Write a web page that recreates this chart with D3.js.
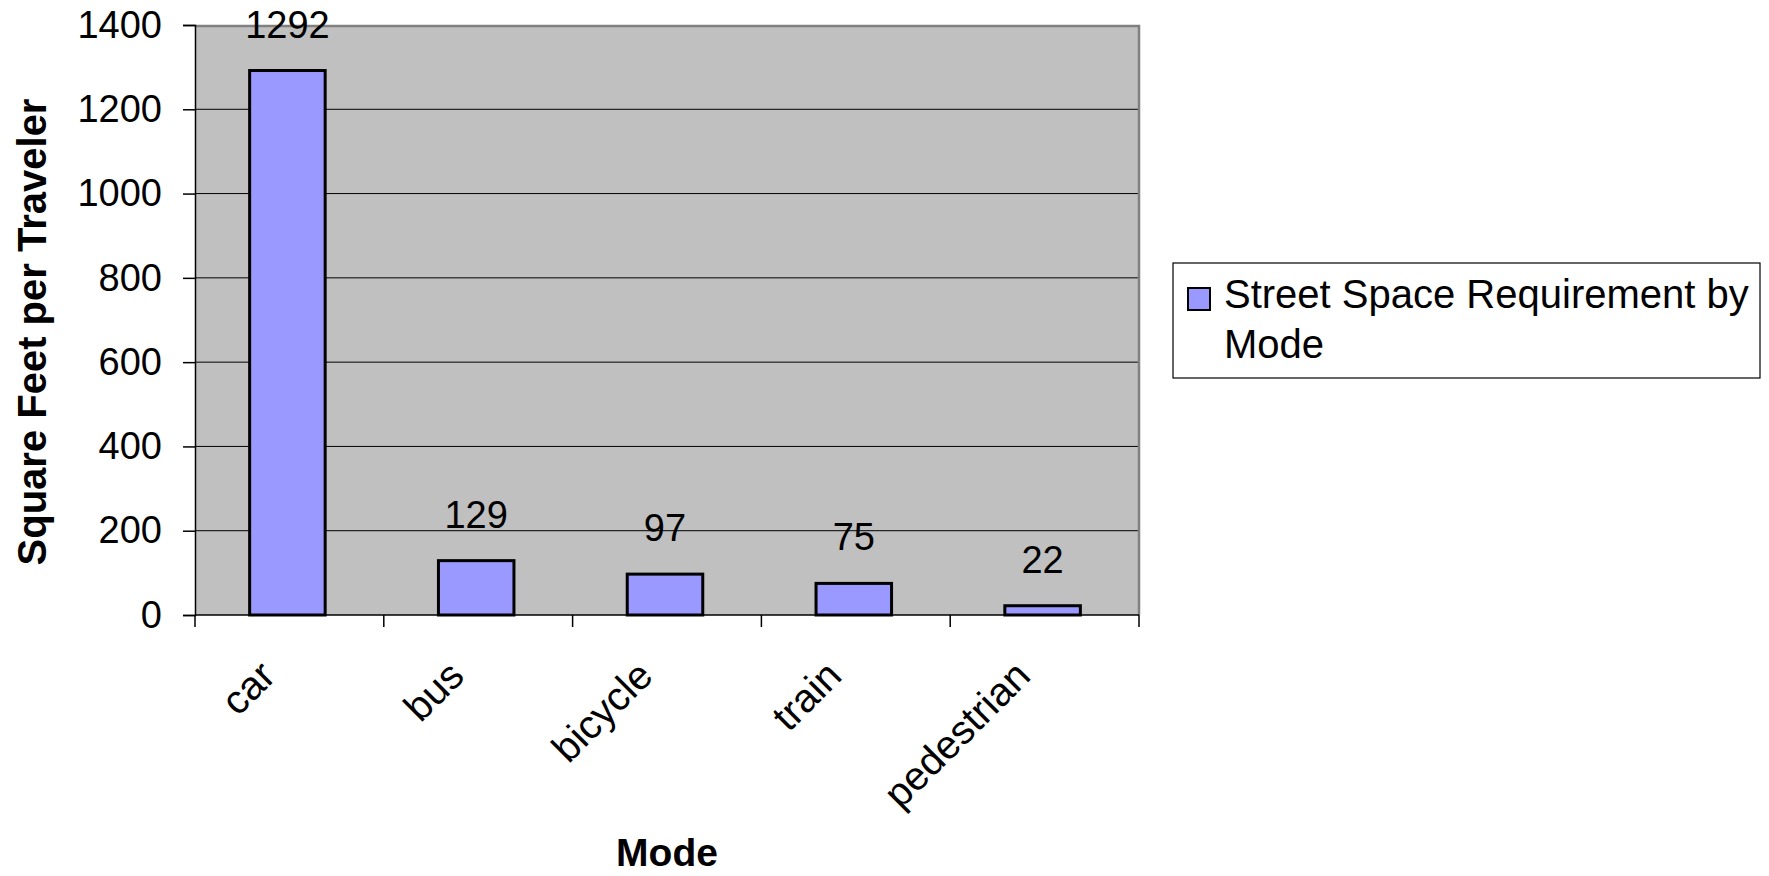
<!DOCTYPE html>
<html>
<head>
<meta charset="utf-8">
<script src="https://cdn.jsdelivr.net/npm/d3@7"></script>
<style>
  html, body { margin: 0; padding: 0; background: #ffffff; }
  svg { display: block; font-family: "Liberation Sans", Arial, sans-serif; }
</style>
</head>
<body>
<svg id="chart" width="1769" height="876"></svg>
<script>
const categories = ["car", "bus", "bicycle", "train", "pedestrian"];
const values = [1292, 129, 97, 75, 22];
const yTicks = [0, 200, 400, 600, 800, 1000, 1200, 1400];
const seriesName = "Street Space Requirement by Mode";
const yTitle = "Square Feet per Traveler";
const xTitle = "Mode";

const svg = d3.select("#chart");
const plot = { left: 195, right: 1139, top: 25, bottom: 615 };

const y = d3.scaleLinear().domain([0, 1400]).range([plot.bottom, plot.top]);
const xStep = d3.scaleBand().domain(categories).range([plot.left, plot.right]).padding(0);
const xBar = d3.scaleBand().domain(categories).range([plot.left, plot.right])
  .paddingInner(0.6).paddingOuter(0.3);

// plot background
svg.append("rect")
  .attr("x", plot.left).attr("y", plot.top)
  .attr("width", plot.right - plot.left).attr("height", plot.bottom - plot.top)
  .attr("fill", "#c0c0c0");

// gridlines
svg.append("g").selectAll("line")
  .data(yTicks.filter(d => d > 0 && d < 1400))
  .join("line")
  .attr("x1", plot.left).attr("x2", plot.right)
  .attr("y1", d => y(d)).attr("y2", d => y(d))
  .attr("stroke", "#000").attr("stroke-width", 1);

// plot border top / right
svg.append("path")
  .attr("d", `M${plot.left},${plot.top + 1} H${plot.right} V${plot.bottom}`)
  .attr("fill", "none").attr("stroke", "#808080").attr("stroke-width", 2.5);

// bars
svg.append("g").selectAll("rect")
  .data(values)
  .join("rect")
  .attr("x", (d, i) => xBar(categories[i]) - 2)
  .attr("width", xBar.bandwidth())
  .attr("y", d => y(d))
  .attr("height", d => y(0) - y(d))
  .attr("fill", "#9999ff")
  .attr("stroke", "#000")
  .attr("stroke-width", 3);

// value labels
svg.append("g").selectAll("text")
  .data(values)
  .join("text")
  .attr("x", (d, i) => xBar(categories[i]) + xBar.bandwidth() / 2 - 2)
  .attr("y", d => y(d) - 33)
  .attr("text-anchor", "middle")
  .attr("font-size", 38)
  .attr("fill", "#000")
  .text(d => d);

// y axis
const yAxis = d3.axisLeft(y).tickValues(yTicks).tickFormat(d3.format("d")).tickSize(12).tickPadding(21);
const gy = svg.append("g").attr("transform", `translate(${plot.left},0)`).call(yAxis);
gy.select(".domain").attr("stroke", "#000").attr("stroke-width", 1.5);
gy.selectAll(".tick line").attr("stroke", "#000").attr("stroke-width", 1.5);
gy.selectAll(".tick text").attr("font-size", 38).attr("fill", "#000")
  .attr("font-family", "'Liberation Sans', Arial, sans-serif");

// x axis line and ticks at category boundaries
const boundaries = categories.map(c => xStep(c)).concat([plot.right]);
svg.append("line")
  .attr("x1", plot.left).attr("x2", plot.right)
  .attr("y1", plot.bottom).attr("y2", plot.bottom)
  .attr("stroke", "#000").attr("stroke-width", 1.5);
svg.append("g").selectAll("line")
  .data(boundaries)
  .join("line")
  .attr("x1", d => d).attr("x2", d => d)
  .attr("y1", plot.bottom).attr("y2", plot.bottom + 12)
  .attr("stroke", "#000").attr("stroke-width", 1.5);

// x labels rotated
svg.append("g").selectAll("text")
  .data(categories)
  .join("text")
  .attr("transform", d => `translate(${xStep(d) + xStep.bandwidth() / 2 - 12},678) rotate(-45)`)
  .attr("text-anchor", "end")
  .attr("font-size", 40)
  .attr("fill", "#000")
  .text(d => d);

// axis titles
svg.append("text")
  .attr("transform", `translate(46,${(99 + 565) / 2}) rotate(-90)`)
  .attr("text-anchor", "middle")
  .attr("font-size", 40)
  .attr("font-weight", "bold")
  .attr("fill", "#000")
  .text(yTitle);

svg.append("text")
  .attr("x", (plot.left + plot.right) / 2)
  .attr("y", 866)
  .attr("text-anchor", "middle")
  .attr("font-size", 39)
  .attr("font-weight", "bold")
  .attr("fill", "#000")
  .text(xTitle);

// legend
const lg = svg.append("g");
lg.append("rect")
  .attr("x", 1173).attr("y", 263).attr("width", 587).attr("height", 115)
  .attr("fill", "#fff").attr("stroke", "#000").attr("stroke-width", 1.2);
lg.append("rect")
  .attr("x", 1188).attr("y", 288).attr("width", 22).attr("height", 22)
  .attr("fill", "#9999ff").attr("stroke", "#000").attr("stroke-width", 2);
const words = seriesName.split(" ");
const legendLines = [words.slice(0, 4).join(" "), words.slice(4).join(" ")];
lg.selectAll("text.leg")
  .data(legendLines)
  .join("text")
  .attr("class", "leg")
  .attr("x", 1224)
  .attr("y", (d, i) => 308 + i * 50)
  .attr("font-size", 40)
  .attr("fill", "#000")
  .text(d => d);
</script>
</body>
</html>
